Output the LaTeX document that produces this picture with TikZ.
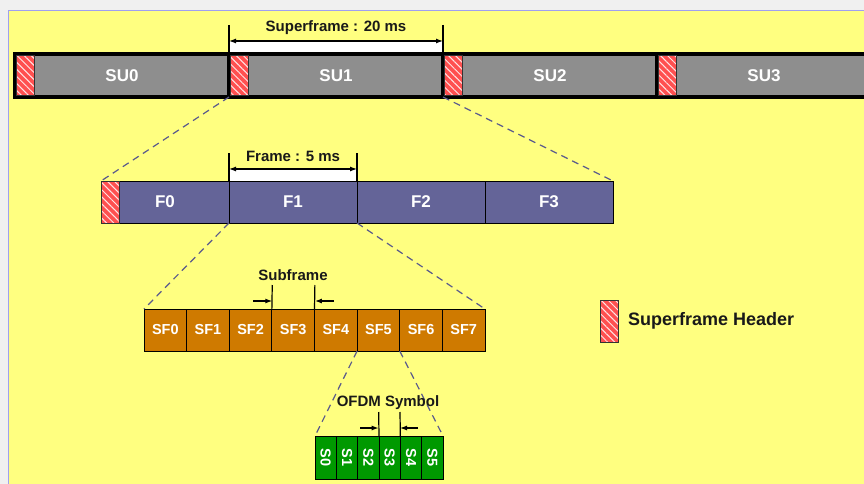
\documentclass[tikz,border=0pt]{standalone}
\usepackage{graphicx}
\usepackage{fontspec}
\setmainfont{Liberation Sans}
\usetikzlibrary{calc, positioning, arrows.meta, patterns.meta}

\definecolor{bgyellow}{RGB}{255,255,128}
\definecolor{sugray}{RGB}{142,142,142}
\definecolor{frpurple}{RGB}{100,100,152}
\definecolor{sforange}{RGB}{207,122,0}
\definecolor{symgreen}{RGB}{0,153,0}
\definecolor{hdred}{RGB}{255,80,80}
\definecolor{dashblue}{RGB}{90,90,140}
\definecolor{pagegray}{RGB}{240,240,240}
\definecolor{edgeblue}{RGB}{160,160,240}

\tikzset{
    barbox/.style={draw=black, line width=1pt, outer sep=0pt, inner sep=0pt,
        text=white, font=\fontsize{17}{17}\selectfont\bfseries},
    subox/.style={barbox, fill=sugray, line width=3.5pt, minimum width=214pt, minimum height=43pt},
    frbox/.style={barbox, fill=frpurple, minimum width=128pt, minimum height=42pt},
    sfbox/.style={barbox, fill=sforange, minimum width=42.625pt, minimum height=42pt,
        font=\fontsize{14.5}{14.5}\selectfont\bfseries},
    symbox/.style={barbox, fill=symgreen, minimum width=21.333pt, minimum height=43pt,
        font=\fontsize{14.5}{14.5}\selectfont\bfseries},
    hdbox/.style={draw=black!80, line width=0.8pt, outer sep=0pt, inner sep=0pt,
        minimum width=18pt, preaction={fill=hdred},
        pattern={Lines[angle=-45, distance=5pt, line width=1pt]}, pattern color=white!85!hdred},
    dimtext/.style={inner sep=0pt, text=black!90, font=\fontsize{15}{15}\selectfont\bfseries},
    extline/.style={line width=1.2pt, black},
    zoomline/.style={dashblue, line width=1.2pt, dash pattern=on 7pt off 5pt},
}

\begin{document}
\begin{tikzpicture}[x=1pt, y=-1pt, >={Latex[length=7pt, width=5pt]}]
    \useasboundingbox (0,0) rectangle (864,484);
    \clip (0,0) rectangle (864,484);

    % 1. Background
    \fill[pagegray] (0,0) rectangle (864,484);
    \fill[bgyellow] (8,10) rectangle (864,484);
    \draw[edgeblue, line width=1.5pt] (8.5,484) -- (8.5,10.5) -- (864,10.5);

    % 2. Superframes
    \foreach \i in {0,...,3} {
        \node[subox] (su\i) at ({122+214*\i},75.5) {SU\i};
        \node[hdbox, minimum height=39.5pt, right=1.75pt of su\i.west] (hd\i) {};
    }

    % 3. Frames
    \foreach \i in {0,...,3} {
        \node[frbox] (f\i) at ({165+128*\i},202) {F\i};
    }
    \node[hdbox, minimum height=42pt, right=0pt of f0.west] (fh) {};

    % 4. Subframes
    \foreach \i in {0,...,7} {
        \node[sfbox] (sf\i) at ({165.3125+42.625*\i},330) {SF\i};
    }

    % 5. OFDM symbols
    \foreach \i in {0,...,5} {
        \node[symbox] (s\i) at ({325.667+21.333*\i},457.5) {\rotatebox{-90}{S\i}};
    }

    % 6. Zoom lines
    \draw[zoomline] (su1.south west) -- (f0.north west);
    \draw[zoomline] (su1.south east) -- (f3.north east);
    \draw[zoomline] (f1.south west) -- (sf0.north west);
    \draw[zoomline] (f1.south east) -- (sf7.north east);
    \draw[zoomline] (sf5.south west) -- (s0.north west);
    \draw[zoomline] (sf5.south east) -- (s5.north east);

    % 7. Superframe : 20 ms
    \coordinate (sup-l) at (229,25);
    \coordinate (sup-r) at (443,25);
    \coordinate (sup-al) at (229,41);
    \coordinate (sup-ar) at (443,41);
    \fill[white] (229,41) rectangle (443,52);
    \draw[extline] (sup-l) -- (sup-l |- su1.north);
    \draw[extline] (sup-r) -- (sup-r |- su2.north);
    \draw[extline, <->] (sup-al) -- (sup-ar);
    \node[dimtext] (sup-txt) at (336,28) {Superframe : 20 ms};

    % 8. Frame : 5 ms
    \coordinate (frm-l) at (229,153);
    \coordinate (frm-r) at (357,153);
    \coordinate (frm-al) at (229,169);
    \coordinate (frm-ar) at (357,169);
    \fill[white] (229,169) rectangle (357,181);
    \draw[extline] (frm-l) -- (f1.north west);
    \draw[extline] (frm-r) -- (f1.north east);
    \draw[extline, <->] (frm-al) -- (frm-ar);
    \node[dimtext] (frm-txt) at (293,156) {Frame : 5 ms};

    % 9. Subframe
    \coordinate (sub-l) at (272.25,285);
    \coordinate (sub-r) at (314.875,285);
    \coordinate (sub-al) at (253,301);
    \coordinate (sub-ar) at (334,301);
    \draw[extline] (sub-l) -- (sf3.north west);
    \draw[extline] (sub-r) -- (sf3.north east);
    \draw[extline, ->] (sub-al) -- (sub-al -| sub-l);
    \draw[extline, ->] (sub-ar) -- (sub-ar -| sub-r);
    \node[dimtext] (sub-txt) at (293,275) {Subframe};

    % 10. OFDM Symbol
    \coordinate (sym-l) at (378.667,412);
    \coordinate (sym-r) at (400,412);
    \coordinate (sym-al) at (360,428);
    \coordinate (sym-ar) at (418,428);
    \draw[extline] (sym-l) -- (s3.north west);
    \draw[extline] (sym-r) -- (s3.north east);
    \draw[extline, ->] (sym-al) -- (sym-al -| sym-l);
    \draw[extline, ->] (sym-ar) -- (sym-ar -| sym-r);
    \node[dimtext] (sym-txt) at (388,403) {OFDM Symbol};

    % 11. Legend
    \node[hdbox, minimum height=42pt] (lg) at (609,321) {};
    \node[dimtext, right=10pt of lg, font=\fontsize{18}{18}\selectfont\bfseries] (lg-txt) {Superframe Header};
\end{tikzpicture}
\end{document}
